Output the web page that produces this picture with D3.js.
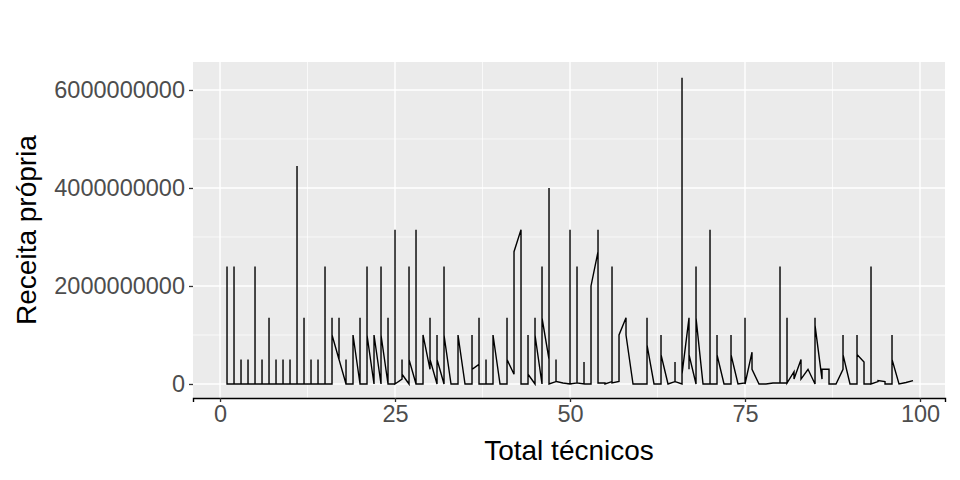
<!DOCTYPE html>
<html><head><meta charset="utf-8">
<script src="https://cdn.jsdelivr.net/npm/d3@7"></script>
<style>body{margin:0;background:#fff}text{font-family:"Liberation Sans",Arial,sans-serif}</style>
</head><body><div id="chart"></div>
<script>
// total de técnicos (x) e, para cada um, receitas na ordem dos dados (em bilhões)
const tecnicos = d3.range(1, 100);
const receita = [
 [0,2.4,0],[0,2.4,0],[0,0.5,0],[0,0.5,0],[0,2.4,0],[0,0.5,0],[0,1.35,0],[0,0.5,0],[0,0.5,0],[0,0.5,0],
 [0,4.45,0],[0,1.35,0],[0,0.5,0],[0,0.5,0],[0,2.4,0],[0,1.35,1.0],[0.5,1.35,0.5],[0,0.5,0],[0,1.0],[0,1.35,0],
 [0,2.4,1.0],[0,1.0],[0,2.4,1.0],[0,1.35,0],[0,2.7,3.15,0],[0.1,0.5,0.2],[0,2.4,0.5],[0,3.15,0],[0,1.0],[0.3,1.35,0.5],
 [0,1.0,0.5],[0,2.4,1.0],[0],[0,1.0],[0],[0,1.0,0.3],[0.4,1.35,0],[0,0.5,0],[0,1.0],[0],
 [0,1.35,0.5],[0.2,2.4,1.0,2.7],[3.15,0],[0,1.0,0.2],[0,1.35,1.0],[0,2.4,1.35],[0.5,4.0,0],[0.05,0.5,0.05],[0.02],[0,3.15,0],
 [0.02,2.4,0.02],[0,0.45,0],[0,1.0,2.0],[2.7,3.15,0.02],[0.02,0],[0.05,2.4,0.02],[0.05,1.0],[1.35,1.0],[0],[0],
 [0,1.35,0.8],[0],[0,1.0,0.6],[0],[0.05,0.45,0.05],[0,6.25,0.2],[1.35,0.3,1.35,0.6],[0,2.4,1.35],[0],[0,3.15,0],
 [0,1.0,0.6],[0],[0,1.0,0.6],[0],[0.02,1.35,0],[0.65,0.3],[0],[0],[0.02],[0.02,2.4,0.02],
 [0.02,1.35,0.02],[0.25,0.1],[0.5,0.45,0.3,0.1],[0.3],[0,1.35,1.2],[0.1,0.3],[0.3,0],[0],[0.3,1.0,0.6],[0],
 [0,1.0,0.6],[0.45,0],[0,2.4,0],[0.05,0.07],[0.05,0],[0,1.0,0.5],[0],[0.03],[0.07]
];
const xTicks = [0, 25, 50, 75, 100];
const yTicks = [0, 2e9, 4e9, 6e9];

const data = tecnicos.flatMap((t, i) => receita[i].map(v => ({x: t, y: v * 1e9})));

const W = 960, H = 480, m = {l: 193, r: 15, t: 62, b: 82};
const svg = d3.select("#chart").append("svg").attr("width", W).attr("height", H);
const x = d3.scaleLinear().domain([-3.86, 103.57]).range([m.l, W - m.r]);
const y = d3.scaleLinear().domain([-0.286e9, 6.571e9]).range([H - m.b, m.t]);

svg.append("rect").attr("x", m.l).attr("y", m.t).attr("width", W - m.r - m.l).attr("height", H - m.b - m.t).attr("fill", "#ebebeb");
const grid = svg.append("g");
[12.5, 37.5, 62.5, 87.5].forEach(d => grid.append("line").attr("x1", x(d)).attr("x2", x(d)).attr("y1", m.t).attr("y2", H - m.b).attr("stroke", "#fff").attr("stroke-width", 0.7));
[1e9, 3e9, 5e9].forEach(d => grid.append("line").attr("y1", y(d)).attr("y2", y(d)).attr("x1", m.l).attr("x2", W - m.r).attr("stroke", "#fff").attr("stroke-width", 0.7));
xTicks.forEach(d => grid.append("line").attr("x1", x(d)).attr("x2", x(d)).attr("y1", m.t).attr("y2", H - m.b).attr("stroke", "#fff").attr("stroke-width", 1.4));
yTicks.forEach(d => grid.append("line").attr("y1", y(d)).attr("y2", y(d)).attr("x1", m.l).attr("x2", W - m.r).attr("stroke", "#fff").attr("stroke-width", 1.4));

svg.append("path").datum(data)
  .attr("fill", "none").attr("stroke", "#000").attr("stroke-width", 1.4)
  .attr("d", d3.line().x(d => x(d.x)).y(d => y(d.y)));

const xa = svg.append("g").attr("transform", `translate(0,${H - m.b})`)
  .call(d3.axisBottom(x).tickValues(xTicks).tickSize(4).tickPadding(3));
xa.select(".domain").attr("stroke", "#000").attr("stroke-width", 1.4);
const ya = svg.append("g").attr("transform", `translate(${m.l},0)`)
  .call(d3.axisLeft(y).tickValues(yTicks).tickFormat(d3.format("d")).tickSize(4).tickPadding(4));
ya.select(".domain").remove();
[xa, ya].forEach(a => {
  a.selectAll(".tick line").attr("stroke", "#333").attr("stroke-width", 1.3);
  a.selectAll(".tick text").attr("fill", "#4d4d4d").style("font-size", "23.5px").style("font-family", "Liberation Sans, Arial");
});

svg.append("text").attr("x", (m.l + W - m.r) / 2).attr("y", 460).attr("text-anchor", "middle")
  .style("font-size", "28px").text("Total técnicos");
svg.append("text").attr("transform", `translate(36,${(m.t + H - m.b) / 2}) rotate(-90)`).attr("text-anchor", "middle")
  .style("font-size", "28px").text("Receita própria");
</script></body></html>
